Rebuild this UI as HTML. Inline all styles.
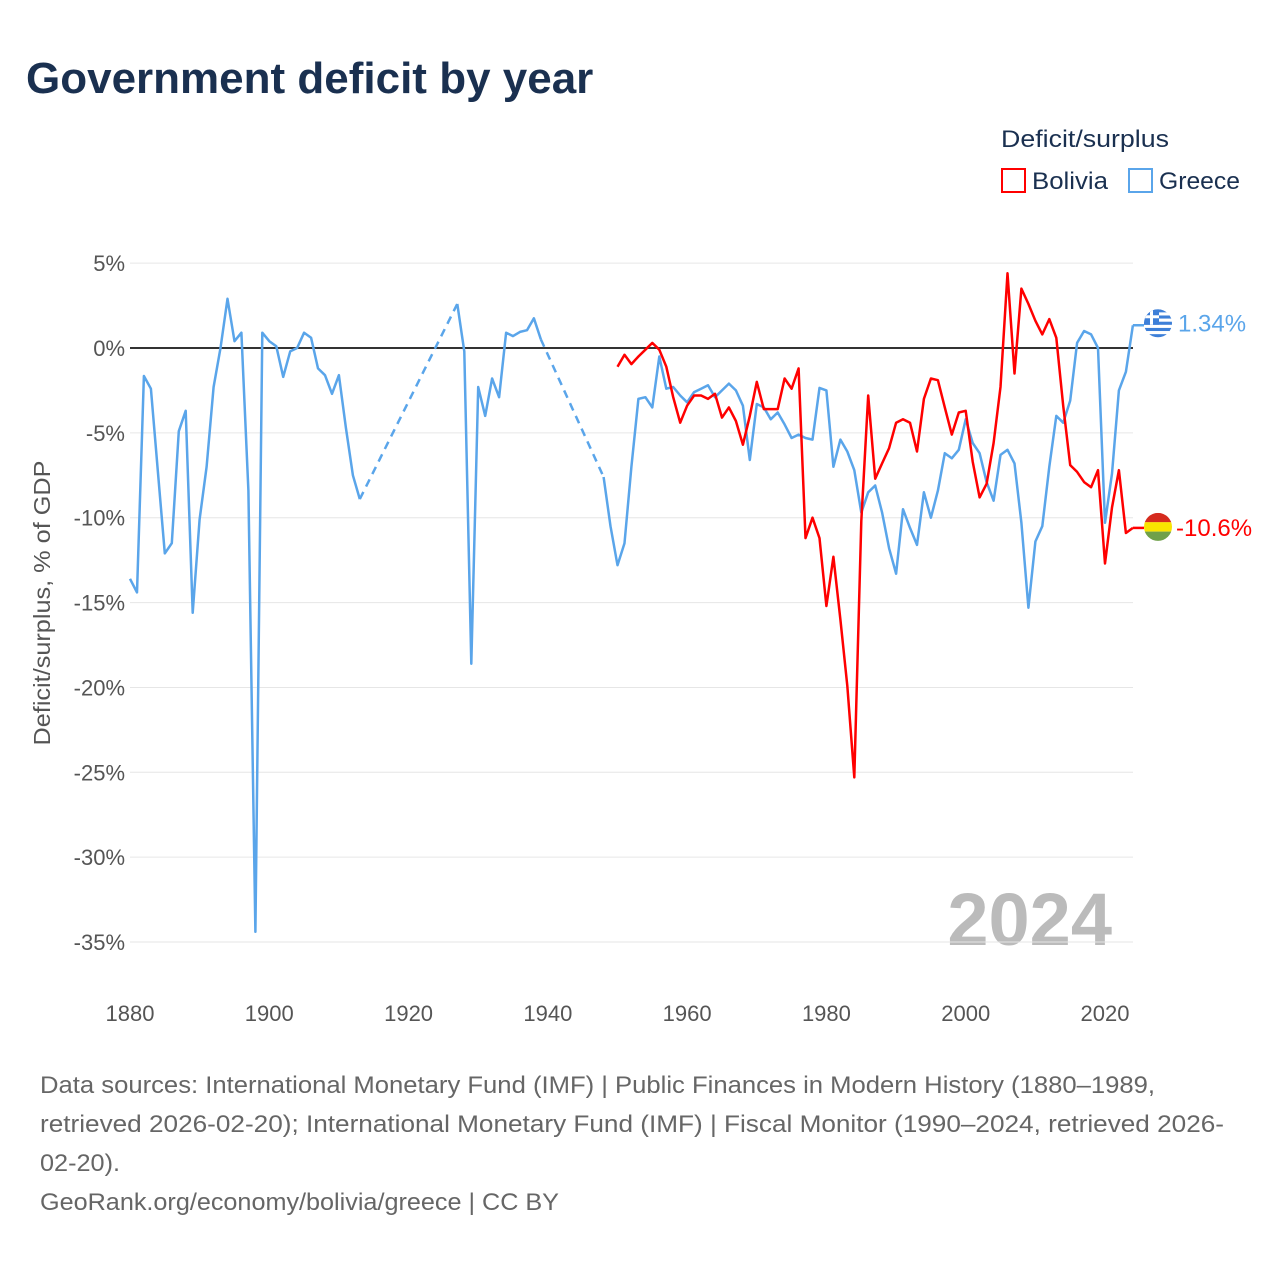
<!DOCTYPE html>
<html><head><meta charset="utf-8"><style>
body{margin:0;background:#fff;font-family:"Liberation Sans",sans-serif}
svg text{font-family:"Liberation Sans",sans-serif}
</style></head><body>
<svg id="c" width="1280" height="1280" viewBox="0 0 1280 1280">
<text x="26" y="93" font-size="44" font-weight="bold" fill="#1a3050">Government deficit by year</text>
<text x="1001" y="147" font-size="24" fill="#1a3050" textLength="168" lengthAdjust="spacingAndGlyphs">Deficit/surplus</text>
<g><rect x="1002" y="169" width="23" height="23" fill="none" stroke="#f00" stroke-width="2"/><text x="1032" y="189" font-size="24" fill="#1a3050" textLength="76" lengthAdjust="spacingAndGlyphs">Bolivia</text></g>
<g><rect x="1129" y="169" width="23" height="23" fill="none" stroke="#5aa5ea" stroke-width="2"/><text x="1159" y="189" font-size="24" fill="#1a3050" textLength="81" lengthAdjust="spacingAndGlyphs">Greece</text></g>
<text transform="translate(50,603) rotate(-90)" text-anchor="middle" font-size="23" fill="#555" textLength="285" lengthAdjust="spacingAndGlyphs">Deficit/surplus, % of GDP</text>
<text x="1112" y="945" text-anchor="end" font-size="74" font-weight="bold" fill="#bbb">2024</text>
<g id="grid"></g><g id="series"></g>
<g font-size="24" fill="#666">
<text x="40" y="1093" textLength="1115" lengthAdjust="spacingAndGlyphs">Data sources: International Monetary Fund (IMF) | Public Finances in Modern History (1880–1989,</text>
<text x="40" y="1132" textLength="1184" lengthAdjust="spacingAndGlyphs">retrieved 2026-02-20); International Monetary Fund (IMF) | Fiscal Monitor (1990–2024, retrieved 2026-</text>
<text x="40" y="1171" textLength="80" lengthAdjust="spacingAndGlyphs">02-20).</text>
<text x="40" y="1210" textLength="519" lengthAdjust="spacingAndGlyphs">GeoRank.org/economy/bolivia/greece | CC BY</text>
</g>
</svg>
<script>
const yTicks=[5,0,-5,-10,-15,-20,-25,-30,-35];
const xTicks=[1880,1900,1920,1940,1960,1980,2000,2020];
const greeceStart=1880;
const greece=[-13.6,-14.4,-1.65,-2.4,-7.3,-12.1,-11.5,-4.9,-3.7,-15.6,-10.1,-7.0,-2.3,0,2.9,0.4,0.9,-8.4,-34.4,0.9,
0.4,0.1,-1.7,-0.2,0,0.9,0.6,-1.2,-1.6,-2.7,-1.6,-4.7,-7.5,-8.9,null,null,null,null,null,null,
null,null,null,null,null,null,null,2.6,-0.2,-18.6,-2.3,-4.0,-1.8,-2.9,0.9,0.7,0.95,1.05,1.75,0.5,
null,null,null,null,null,null,null,null,-7.6,-10.5,-12.8,-11.5,-7.0,-3.0,-2.9,-3.5,-0.5,-2.4,-2.3,-2.8,
-3.2,-2.6,-2.4,-2.2,-2.9,-2.5,-2.1,-2.5,-3.4,-6.6,-3.3,-3.5,-4.2,-3.8,-4.5,-5.3,-5.1,-5.3,-5.4,-2.35,
-2.5,-7.0,-5.4,-6.1,-7.2,-9.7,-8.5,-8.1,-9.7,-11.8,-13.3,-9.5,-10.6,-11.6,-8.5,-10.0,-8.4,-6.2,-6.5,-6.0,
-4.2,-5.6,-6.2,-7.9,-9.0,-6.3,-6.0,-6.8,-10.3,-15.3,-11.4,-10.5,-7.0,-4.0,-4.4,-3.1,0.3,1.0,0.8,0.0,
-10.3,-7.4,-2.5,-1.4,1.34];
const boliviaStart=1950;
const bolivia=[-1.1,-0.4,-0.95,-0.5,-0.1,0.3,-0.1,-1.1,-2.9,-4.4,-3.4,-2.8,-2.8,-3.0,-2.7,-4.1,-3.5,-4.3,-5.7,-4.0,
-2.0,-3.6,-3.6,-3.6,-1.8,-2.4,-1.2,-11.2,-10.0,-11.2,-15.2,-12.3,-16.0,-19.9,-25.3,-10.2,-2.8,-7.7,-6.8,-5.9,
-4.4,-4.2,-4.4,-6.1,-3.0,-1.8,-1.9,-3.5,-5.1,-3.8,-3.7,-6.7,-8.8,-8.0,-5.6,-2.3,4.4,-1.5,3.5,2.6,
1.6,0.8,1.7,0.6,-3.4,-6.9,-7.3,-7.9,-8.2,-7.2,-12.7,-9.4,-7.2,-10.9,-10.6];
const NS="http://www.w3.org/2000/svg";
const X=y=>130+(y-1880)*(975/140);
const Y=v=>348-v*(84.86/5);
function mk(t,a,p){const e=document.createElementNS(NS,t);for(const k in a)e.setAttribute(k,a[k]);p.appendChild(e);return e;}
const grid=document.getElementById('grid'),ser=document.getElementById('series');
yTicks.forEach(v=>{
 const l=mk('line',{x1:130,x2:1133,y1:Y(v),y2:Y(v),stroke:v===0?'#333':'#e6e6e6','stroke-width':v===0?2:1},grid);
 
 
 const t=mk('text',{x:125,y:Y(v)+8,'text-anchor':'end','font-size':22,fill:'#555'},grid);
 t.textContent=v+'%';
 
 
});
xTicks.forEach(y=>{
 const t=mk('text',{x:X(y),y:1021,'text-anchor':'middle','font-size':22,fill:'#555'},grid);
 t.textContent=y;
 
 
});
function draw(arr,start,color,name){
 let solid='',dash='',prev=null;
 arr.forEach((v,i)=>{
  if(v===null)return;
  const px=X(start+i),py=Y(v);
  if(prev&&prev.i===i-1){solid+=` L${px.toFixed(1)},${py.toFixed(1)}`;}
  else{ if(prev)dash+=` M${prev.x.toFixed(1)},${prev.y.toFixed(1)} L${px.toFixed(1)},${py.toFixed(1)}`; solid+=` M${px.toFixed(1)},${py.toFixed(1)}`;}
  prev={i,x:px,y:py};
 });
 const d=mk('path',{d:dash,fill:'none',stroke:color,'stroke-width':2.5,'stroke-dasharray':'8,6'},ser);
 
 
 const s=mk('path',{d:solid,fill:'none',stroke:color,'stroke-width':2.5,'stroke-linejoin':'round'},ser);
 
 
 return prev;
}
const gEnd=draw(greece,greeceStart,'#5aa5ea','greece');
const bEnd=draw(bolivia,boliviaStart,'#f00','bolivia');
function flag(cy,kind){
 const g=mk('g',{},ser);
 
 
 const cp=mk('clipPath',{id:'cp'+kind},g);mk('circle',{cx:1158,cy:cy,r:14},cp);
 const gg=mk('g',{'clip-path':`url(#cp${kind})`},g);
 if(kind==='greece'){
  for(let k=0;k<9;k++)mk('rect',{x:1144,y:cy-14+k*28/9,width:28,height:28/9+0.3,fill:k%2?'#fff':'#3d7fd8'},gg);
  mk('rect',{x:1144,y:cy-14,width:15,height:15.5,fill:'#3d7fd8'},gg);
  mk('rect',{x:1150,y:cy-14,width:3,height:15.5,fill:'#fff'},gg);
  mk('rect',{x:1144,y:cy-8,width:15,height:3,fill:'#fff'},gg);
 }else{
  mk('rect',{x:1144,y:cy-14,width:28,height:9.4,fill:'#d52b1e'},gg);
  mk('rect',{x:1144,y:cy-4.7,width:28,height:9.4,fill:'#f9e300'},gg);
  mk('rect',{x:1144,y:cy+4.7,width:28,height:9.4,fill:'#6fa04a'},gg);
 }
}
mk('line',{x1:gEnd.x,y1:gEnd.y,x2:1144,y2:gEnd.y,stroke:'#5aa5ea','stroke-width':2.5},ser);
mk('line',{x1:bEnd.x,y1:bEnd.y,x2:1144,y2:bEnd.y,stroke:'#f00','stroke-width':2.5},ser);
flag(gEnd.y-2,'greece');flag(bEnd.y-1,'bolivia');
const gl=mk('text',{x:1178,y:gEnd.y+6,'font-size':24,fill:'#5aa5ea'},ser);
gl.textContent=greece[greece.length-1]+'%';


const bl=mk('text',{x:1176,y:bEnd.y+8,'font-size':24,fill:'#f00'},ser);
bl.textContent=bolivia[bolivia.length-1]+'%';


</script>
</body></html>
